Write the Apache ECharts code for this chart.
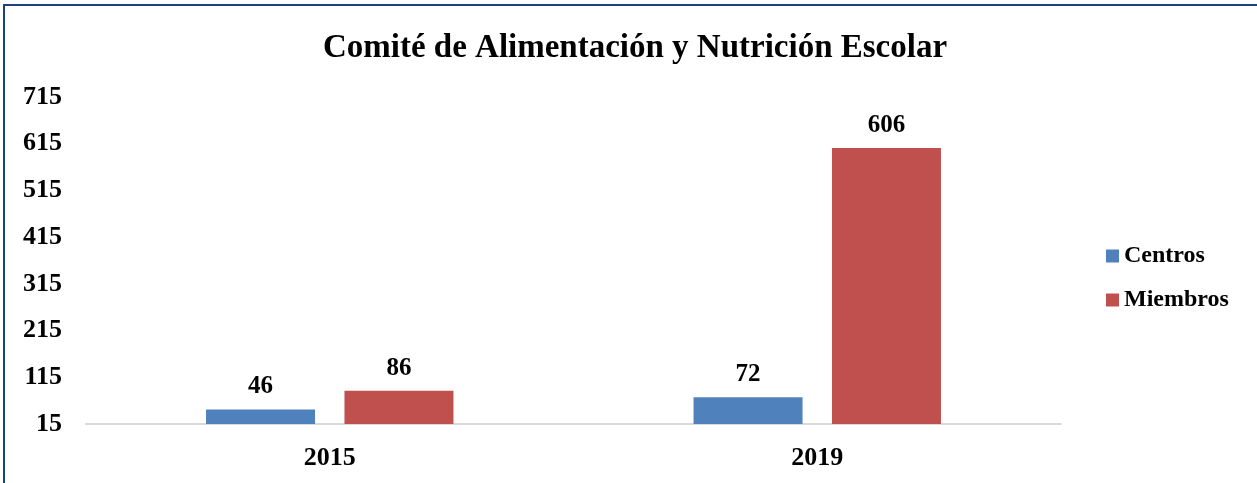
<!DOCTYPE html>
<html>
<head>
<meta charset="utf-8">
<script src="https://cdn.jsdelivr.net/npm/echarts@6/dist/echarts.min.js"></script>
<style>
  html, body { margin: 0; padding: 0; background: #fff; }
  #chart { width: 1257px; height: 483px; }
</style>
</head>
<body>
<div id="chart"></div>
<script>
const years = ['2015', '2019'];
const centros = [46, 72];
const miembros = [86, 606];
const yTicks = [15, 115, 215, 315, 415, 515, 615, 715];

const serif = '"Liberation Serif", "DejaVu Serif", serif';
const myChart = echarts.init(document.getElementById('chart'));

const labelStyle = {
    show: true,
    position: 'top',
    distance: 10,
    color: '#000',
    fontFamily: serif,
    fontWeight: 'bold',
    fontSize: 25
};

const option = {
    animation: false,
    graphic: [{
        type: 'rect',
        shape: { x: 4, y: 5, width: 1300, height: 600 },
        style: { fill: 'none', stroke: '#1F3F7F', lineWidth: 2 }
    }],
    title: {
        text: 'Comité de Alimentación y Nutrición Escolar',
        left: 630,
        textAlign: 'center',
        top: 27,
        textStyle: {
            fontFamily: serif,
            fontWeight: 'bold',
            fontSize: 33,
            color: '#000'
        }
    },
    legend: {
        orient: 'vertical',
        left: 1101,
        top: 239,
        itemWidth: 13,
        itemHeight: 13,
        itemGap: 20,
        icon: 'rect',
        textStyle: {
            fontFamily: serif,
            fontWeight: 'bold',
            fontSize: 24,
            color: '#000'
        },
        data: ['Centros', 'Miembros']
    },
    grid: {
        left: 86,
        right: 196,
        top: 97,
        bottom: 59,
        containLabel: false
    },
    xAxis: {
        type: 'category',
        data: years,
        axisLine: { lineStyle: { color: '#D9D9D9', width: 2 } },
        axisTick: { show: false },
        axisLabel: {
            margin: 21,
            color: '#000',
            fontFamily: serif,
            fontWeight: 'bold',
            fontSize: 26
        }
    },
    yAxis: {
        type: 'value',
        min: yTicks[0],
        max: yTicks[yTicks.length - 1],
        interval: 100,
        splitLine: { show: false },
        axisLine: { show: false },
        axisTick: { show: false },
        axisLabel: {
            margin: 24,
            color: '#000',
            fontFamily: serif,
            fontWeight: 'bold',
            fontSize: 26
        }
    },
    series: [
        {
            name: 'Centros',
            type: 'bar',
            data: centros,
            barWidth: 109,
            barGap: '27%',
            itemStyle: { color: '#4F81BD' },
            label: labelStyle
        },
        {
            name: 'Miembros',
            type: 'bar',
            data: miembros,
            barWidth: 109,
            barGap: '27%',
            itemStyle: { color: '#C0504D' },
            label: labelStyle
        }
    ]
};

myChart.setOption(option);
</script>
</body>
</html>
